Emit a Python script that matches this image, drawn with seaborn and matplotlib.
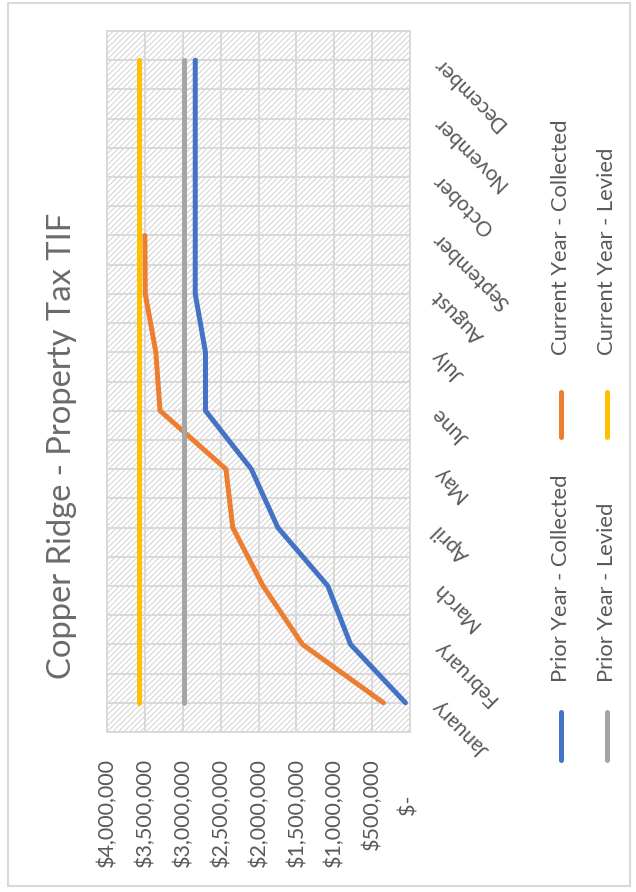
import numpy as np
import pandas as pd
import matplotlib
matplotlib.use("Agg")
import matplotlib.pyplot as plt
import seaborn as sns
from matplotlib.patches import Rectangle
from matplotlib.lines import Line2D
from matplotlib.font_manager import FontProperties

# ---- data -------------------------------------------------------------
months = ["January", "February", "March", "April", "May", "June",
          "July", "August", "September", "October", "November", "December"]

prior_collected = [60000, 785000, 1085000, 1745000, 2095000, 2700000,
                   2700000, 2835000, 2835000, 2835000, 2835000, 2835000]
current_collected = [350000, 1420000, 1940000, 2340000, 2430000, 3300000,
                     3355000, 3495000, 3500000, np.nan, np.nan, np.nan]
prior_levied = [2990000, 2990000, 2990000, 2990000, 2990000, 2990000,
                2990000, 2990000, 2990000, 2990000, 2990000, 2990000]
current_levied = [3580000, 3580000, 3580000, 3580000, 3580000, 3580000,
                  3580000, 3580000, 3580000, 3580000, 3580000, 3580000]

series_names = ["Prior Year - Collected", "Current Year - Collected",
                "Prior Year - Levied", "Current Year - Levied"]
series_colors = ["#4472C4", "#ED7D31", "#A5A5A5", "#FFC000"]

value_ticks = [0, 500000, 1000000, 1500000, 2000000,
               2500000, 3000000, 3500000, 4000000]
value_labels = ["$-\u2007\u2007\u2007", "$500,000", "$1,000,000", "$1,500,000",
                "$2,000,000", "$2,500,000", "$3,000,000", "$3,500,000",
                "$4,000,000"]

title = "Copper Ridge - Property Tax TIF"

# ---- long table -------------------------------------------------------
all_series = [prior_collected, current_collected, prior_levied, current_levied]
frames = []
for name, vals in zip(series_names, all_series):
    frames.append(pd.DataFrame({"Month": np.arange(len(months)),
                                "Amount": vals, "Series": name}))
df = pd.concat(frames, ignore_index=True)

# ---- styling ----------------------------------------------------------
sns.set_theme(style="white")
FAMILY = ["Lato", "DejaVu Sans"]
plt.rcParams["font.family"] = FAMILY
plt.rcParams["hatch.linewidth"] = 0.7
TEXT = "#595959"
GRID = "#d9d9d9"

W, H = 636, 892
fig = plt.figure(figsize=(W / 100, H / 100), dpi=100)
fig.patch.set_facecolor("white")
renderer = fig.canvas.get_renderer()


def px(x, y):
    return x / W, 1 - y / H


def size_for(s, target_px, weight="normal"):
    fp = FontProperties(family=FAMILY, weight=weight, size=20)
    w, _, _ = renderer.get_text_width_height_descent(s, fp, ismath=False)
    return 20 * target_px / w


title_size = size_for(title, 468)
tick_size = size_for("$4,000,000", 110)
month_size = size_for("December", 95)
legend_size = size_for("Prior Year - Collected", 208)

# plot area (chart is laid out on its side: amounts run right-to-left,
# months run bottom-to-top)
left, top, right, bottom = 107, 31, 410, 732
ax = fig.add_axes([left / W, 1 - bottom / H, (right - left) / W, (bottom - top) / H])
ax.set_facecolor("white")
ax.add_patch(Rectangle((0, 0), 1, 1, transform=ax.transAxes, facecolor="white",
                       edgecolor="#d2d2d2", linewidth=0, hatch="//////", zorder=0.1))

sns.lineplot(data=df, x="Amount", y="Month", hue="Series",
             hue_order=series_names, palette=series_colors,
             orient="y", sort=False, estimator=None, legend=False,
             linewidth=3.6, solid_capstyle="round", ax=ax, zorder=3)

ax.set_xlim(4000000, 0)
ax.set_ylim(-0.5, len(months) - 0.5)
ax.set_xlabel("")
ax.set_ylabel("")

ax.set_xticks(value_ticks, labels=value_labels, rotation=90)
ax.set_yticks(np.arange(len(months)), labels=months, rotation=135,
              rotation_mode="anchor", ha="right", va="center")
ax.set_yticks(np.arange(-0.5, len(months), 0.5), minor=True)
ax.yaxis.tick_right()

ax.tick_params(axis="x", length=0, pad=18.7, labelsize=tick_size, labelcolor=TEXT)
ax.tick_params(axis="y", which="both", length=0, pad=18.5,
               labelsize=month_size, labelcolor=TEXT)

ax.set_axisbelow(True)
ax.grid(True, axis="x", which="major", color=GRID, linewidth=1.4)
ax.grid(True, axis="y", which="both", color=GRID, linewidth=1.4)
for sp in ax.spines.values():
    sp.set_visible(True)
    sp.set_color(GRID)
    sp.set_linewidth(1.4)

# title
tx, ty = px(62, 446)
fig.text(tx, ty, title, rotation=90, ha="center", va="center",
         fontsize=title_size, color="#6a6a6a")

# legend, drawn in the same sideways orientation
for i, (name, color) in enumerate(zip(series_names, series_colors)):
    row, block = divmod(i, 2)
    x = 561 + 46 * row
    if block == 0:
        y0, y1, ys = 712, 760, 682
    else:
        y0, y1, ys = 392, 437, 355
    fx0, fy0 = px(x, y0)
    fx1, fy1 = px(x, y1)
    fig.add_artist(Line2D([fx0, fx1], [fy0, fy1], transform=fig.transFigure,
                          color=color, linewidth=3.6, solid_capstyle="round"))
    sx, sy = px(x, ys)
    fig.text(sx, sy, name, rotation=90, rotation_mode="anchor", ha="left",
             va="center", fontsize=legend_size, color=TEXT)

# chart border
bx0, by0 = px(8, 886)
fig.add_artist(Rectangle((bx0, by0), (630 - 8) / W, (886 - 3) / H,
                         transform=fig.transFigure, fill=False,
                         edgecolor=GRID, linewidth=1.5))

fig.savefig("out.png", dpi=100, facecolor="white")
